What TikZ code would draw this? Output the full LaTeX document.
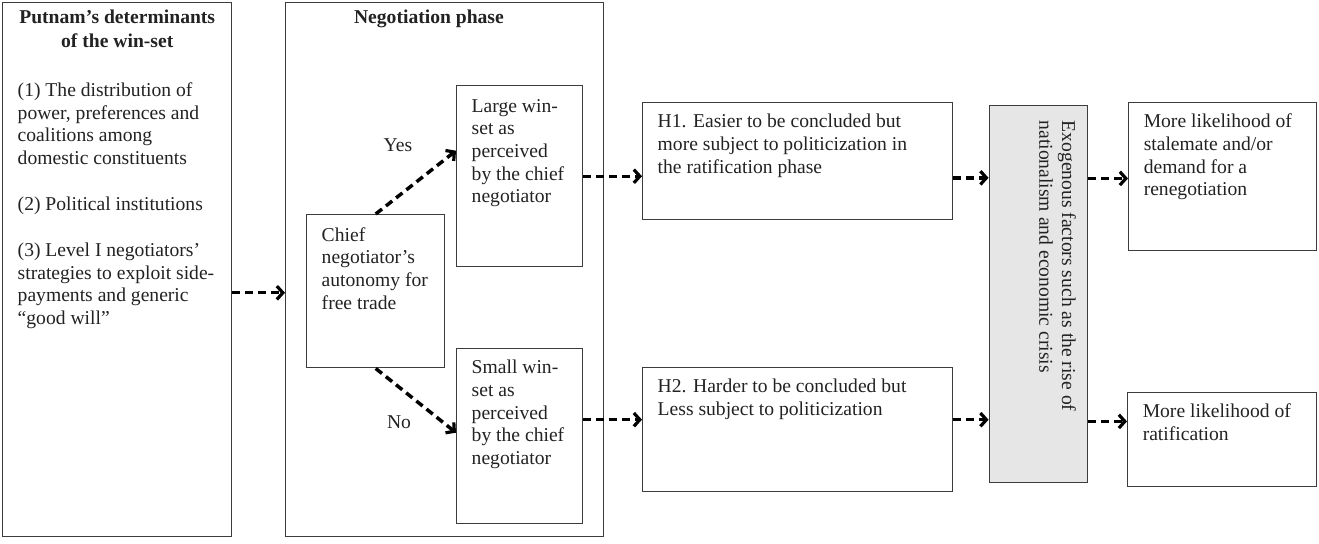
\documentclass[tikz,border=0pt]{standalone}
\usepackage{fontspec}
\setmainfont{Liberation Serif}
\usetikzlibrary{arrows.meta,calc}
\newdimen\pxu \pxu=0.75pt
\newcommand{\bxt}[4][0pt]{\parbox[c][\dimexpr #3\pxu-14pt\relax][t]{\dimexpr #2\pxu-22.5pt\relax}{\vspace*{#1}\raggedright\strut #4}}
\definecolor{linec}{HTML}{3C3C3C}
\definecolor{txtc}{HTML}{222222}
\definecolor{grayc}{HTML}{E6E6E6}
\tikzset{
  bx/.style={draw=linec, line width=1.1pt, inner xsep=11.25pt, inner ysep=7pt, anchor=north west, font=\fontsize{14.7}{17}\selectfont, text=txtc},
  lbl/.style={font=\fontsize{14.7}{17}\selectfont, text=txtc, inner sep=0pt},
  darr/.style={line width=2.6pt, dash pattern=on 6pt off 3.75pt, -{Straight Barb[length=4.5pt,width=10pt,line width=2.4pt]}},
}
\begin{document}
\begin{tikzpicture}[x=0.75pt,y=-0.75pt]
\useasboundingbox (0,0) rectangle (1319,543);
\node[bx] (putnam) at (2,2) {\bxt[-3pt]{229}{534}{\centering\bfseries Putnam’s determinants\\[1pt] of the win-set\par
  \raggedright\mdseries\vspace{19.5pt}\strut(1) The distribution of\\ power, preferences and\\ coalitions among\\ domestic constituents\par
  \vspace{17.5pt}\strut(2) Political institutions\par
  \vspace{17.5pt}\strut(3) Level I negotiators’\\ strategies to exploit side-\\ payments and generic\\ “good will”}};
\node[bx] (neg) at (285,2) {\bxt[-3pt]{318}{534}{\hspace*{40pt}\textbf{Negotiation phase}}};
\node[bx] (chief) at (306,214) {\bxt[1pt]{138}{153}{Chief\\ negotiator’s\\ autonomy for\\ free trade}};
\node[bx] (large) at (456,85) {\bxt[1pt]{126}{181}{Large win-\\ set as\\ perceived\\ by the chief\\ negotiator}};
\node[bx] (small) at (456,348) {\bxt{126}{175}{Small win-\\ set as\\ perceived\\ by the chief\\ negotiator}};
\node[bx] (h1) at (642,102) {\bxt{310}{117}{H1. Easier to be concluded but\\ more subject to politicization in\\ the ratification phase}};
\node[bx] (h2) at (642,367) {\bxt{310}{124}{H2. Harder to be concluded but\\ Less subject to politicization}};
\node[bx, fill=grayc, rotate=-90] (gray) at (1088,105) {\bxt{377}{98}{Exogenous factors such as the rise of\\ nationalism and economic crisis}};
\node[bx] (stale) at (1128,102) {\bxt{188}{148}{More likelihood of\\ stalemate and/or\\ demand for a\\ renegotiation}};
\node[bx] (ratif) at (1127,392) {\bxt{189}{94}{More likelihood of\\ ratification}};
\node[lbl] (yes) at (398,145) {Yes};
\node[lbl] (no) at (399,422) {No};
% connector anchor points
\coordinate (pa) at ($(putnam.north east)!0.543!(putnam.south east)$);
\coordinate (ya) at ($(large.north west)!0.36!(large.south west)$);
\coordinate (na) at ($(small.north west)!0.48!(small.south west)$);
\coordinate (la) at ($(large.north east)!0.50!(large.south east)$);
\coordinate (sa) at ($(small.north east)!0.406!(small.south east)$);
\coordinate (ha) at ($(h1.north east)!0.64!(h1.south east)$);
\coordinate (hb) at ($(h2.north east)!0.42!(h2.south east)$);
\coordinate (ga) at ($(gray.north west)!0.194!(gray.north east)$);
\coordinate (gb) at ($(gray.north west)!0.836!(gray.north east)$);
\draw[darr] (pa) -- (pa -| neg.west);
\draw[darr] (chief.north) -- (ya);
\draw[darr] (chief.south) -- (na);
\draw[darr] (la) -- (la -| h1.west);
\draw[darr] (sa) -- (sa -| h2.west);
\draw[darr] (ha) -- (ha -| gray.south);
\draw[darr] (hb) -- (hb -| gray.south);
\draw[darr] (ga) -- (ga -| stale.west);
\draw[darr] (gb) -- (gb -| ratif.west);
\end{tikzpicture}
\end{document}
